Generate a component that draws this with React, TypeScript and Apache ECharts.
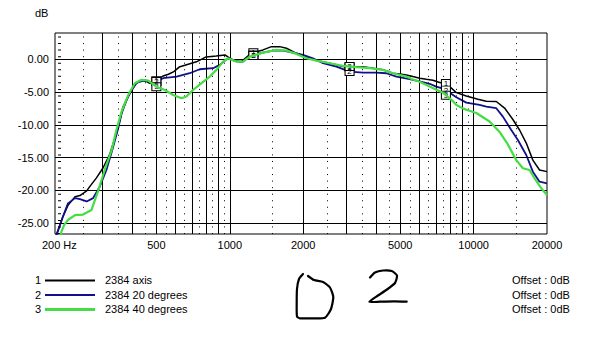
import React, { useEffect, useRef } from 'react';
import * as echarts from 'echarts';

// ---- data ----
const axisFreq = [192, 198, 207, 217, 232, 243, 259, 267, 284, 302, 322, 343, 360, 383, 408, 428, 456, 470, 500, 530, 560, 590, 620, 665, 730, 800, 880, 955, 1000, 1048, 1117, 1189, 1250, 1369, 1482, 1603, 1708, 1876, 2062, 2266, 2570, 2913, 3100, 3518, 3867, 4250, 4670, 4974, 5299, 5640, 6008, 6400, 6810, 7256, 7729, 8494, 9335, 10414, 11272, 12389, 13400, 14491, 15437, 16444, 17500, 18643, 20000];
const axisDb = [-27.3, -26.0, -24.0, -22.3, -21.0, -20.8, -20.1, -19.4, -18.1, -16.6, -14.5, -11.3, -8.3, -5.7, -3.9, -3.25, -3.4, -3.7, -3.3, -2.6, -2.3, -1.9, -1.2, -0.85, -0.4, 0.35, 0.5, 0.65, 0.15, -0.3, -0.35, 0.5, 1.0, 1.42, 1.92, 1.92, 1.67, 0.9, 0.4, -0.2, -0.6, -1.1, -1.2, -1.15, -1.37, -1.6, -2.14, -2.25, -2.4, -2.65, -2.9, -3.07, -3.2, -3.55, -3.7, -5.1, -5.6, -6.1, -6.4, -6.45, -7.45, -9.2, -10.8, -12.8, -15.4, -16.9, -17.15];

const deg20Freq = [192, 198, 207, 217, 232, 243, 259, 275, 293, 312, 333, 349, 365, 389, 415, 448, 485, 533, 605, 685, 753, 854, 910, 969, 1016, 1048, 1099, 1134, 1208, 1369, 1505, 1654, 1817, 1997, 2194, 2412, 2737, 3103, 3518, 3993, 4387, 4823, 5467, 6008, 6601, 7032, 7606, 8494, 9335, 10582, 11272, 12389, 13188, 14272, 15192, 16444, 17500, 18643, 20000];
const deg20Db = [-27.5, -26.1, -24.0, -22.0, -21.2, -21.35, -21.7, -21.2, -19.45, -16.9, -13.3, -10.5, -7.3, -5.2, -3.6, -3.2, -3.65, -2.9, -2.65, -2.14, -1.53, -1.37, -0.87, 0.0, 0.0, -0.26, -0.37, -0.37, 0.5, 1.0, 1.31, 1.31, 1.0, 0.66, 0.15, -0.61, -1.13, -1.88, -2.04, -2.04, -2.14, -2.65, -3.05, -3.4, -3.75, -4.18, -4.58, -5.8, -6.63, -6.98, -7.24, -7.48, -8.76, -10.8, -12.32, -14.61, -17.16, -18.69, -18.93];

const deg40Freq = [200, 204, 210, 217.5, 232, 250, 271, 289, 307, 328, 343, 360, 383, 408, 435, 463, 500, 542, 586, 634, 664, 707, 766, 828, 882, 939, 984, 1065, 1134, 1208, 1369, 1554, 1708, 1876, 2062, 2266, 2570, 2913, 3306, 3749, 4250, 4670, 5299, 5640, 6008, 6601, 7485, 8227, 8494, 9042, 9335, 10259, 11630, 12783, 13823, 14962, 15924, 16964, 17783, 18945, 20000];
const deg40Db = [-27.5, -26.3, -25.2, -24.5, -23.8, -23.7, -23.0, -20.0, -16.9, -13.85, -10.8, -8.0, -5.5, -3.66, -3.15, -3.27, -4.2, -4.7, -5.45, -5.95, -5.7, -4.7, -3.66, -2.65, -1.63, -0.37, 0.15, -0.37, -0.37, 0.4, 1.0, 1.42, 1.31, 0.81, 0.15, -0.21, -0.61, -1.02, -1.22, -1.37, -1.63, -2.14, -2.65, -3.1, -3.45, -4.15, -5.1, -6.4, -7.0, -7.5, -7.7, -8.2, -9.5, -11.1, -13.0, -15.4, -16.64, -16.9, -18.17, -19.69, -20.72];

const seriesNames = ['2384 axis', '2384 20 degrees', '2384 40 degrees'];
const seriesColors = ['#000000', '#10108c', '#44dd44'];
const seriesWidths = [1.5, 1.8, 2.2];
const legendWidths = [2, 2, 3];

const xLabelValues = [200, 500, 1000, 2000, 5000, 10000, 20000];
const yLabelValues = [0, -5, -10, -15, -20, -25];
const majorFreqs = [300, 400, 500, 600, 700, 800, 900, 1000, 2000, 3000, 4000, 5000, 6000, 7000, 8000, 9000, 10000];
const minorFreqs = [250, 350, 450, 550, 650, 750, 850, 950, 1500, 2500, 3500, 4500, 5500, 6500, 7500, 8500, 9500, 15000];
const markerFreqs = [500, 1250, 3100, 7700];

const FONT = '"Liberation Sans", Arial, sans-serif';

function interp(freqs: number[], dbs: number[], f: number): number {
  const lf = Math.log10(f);
  for (let i = 0; i < freqs.length - 1; i++) {
    const a = Math.log10(freqs[i]);
    const b = Math.log10(freqs[i + 1]);
    if (lf >= a && lf <= b) {
      const t = (lf - a) / (b - a);
      return dbs[i] + t * (dbs[i + 1] - dbs[i]);
    }
  }
  return dbs[dbs.length - 1];
}

export default function App() {
  const ref = useRef<HTMLDivElement>(null);
  useEffect(() => {
    if (!ref.current) return;
    const chart = echarts.init(ref.current, undefined, { renderer: 'svg' });
    const sets = [
      [axisFreq, axisDb],
      [deg20Freq, deg20Db],
      [deg40Freq, deg40Db],
    ];
    const curveSeries = sets.map(([fr, db], idx) => ({
      type: 'line',
      name: seriesNames[idx],
      data: fr.map((f, i) => [f, db[i]]),
      showSymbol: false,
      symbol: 'none',
      smooth: false,
      clip: true,
      z: 3 + idx,
      lineStyle: { color: seriesColors[idx], width: seriesWidths[idx] },
      itemStyle: { color: seriesColors[idx] },
      markPoint: {
        symbol: 'rect',
        symbolSize: [9, 8],
        silent: true,
        itemStyle: { color: '#ffffff', borderColor: '#000000', borderWidth: 1 },
        label: {
          show: true,
          position: 'inside',
          formatter: String(idx + 1),
          fontSize: 8,
          color: '#000',
          fontFamily: FONT,
        },
        data: markerFreqs.map((f) => ({ coord: [f, interp(fr, db, f)] })),
      },
    }));

    const gridLines: any[] = [
      ...majorFreqs.map((f) => ({ xAxis: f, lineStyle: { color: '#000', width: 1, type: 'solid' } })),
      ...minorFreqs.map((f) => ({ xAxis: f, lineStyle: { color: '#000', width: 1, type: [1, 5.55] } })),
      { xAxis: 200, lineStyle: { color: '#000', width: 3, type: [1, 5.55] } },
      ...yLabelValues.map((v) => ({ yAxis: v, lineStyle: { color: '#000', width: 1, type: 'solid' } })),
    ];

    const legendRows = [280.5, 295, 309.5];
    const graphic: any[] = [];
    legendRows.forEach((y, i) => {
      graphic.push({
        type: 'text', left: 35, top: y - 6,
        style: { text: String(i + 1), fontSize: 11, fontFamily: FONT, fill: '#000' },
      });
      graphic.push({
        type: 'line',
        shape: { x1: 45, y1: y, x2: 95, y2: y },
        style: { stroke: seriesColors[i], lineWidth: legendWidths[i] },
      });
      graphic.push({
        type: 'text', left: 105, top: y - 6,
        style: { text: seriesNames[i], fontSize: 11, fontFamily: FONT, fill: '#000' },
      });
      graphic.push({
        type: 'text', left: 512, top: y - 6,
        style: { text: 'Offset : 0dB', fontSize: 11, fontFamily: FONT, fill: '#000' },
      });
    });
    graphic.push({
      type: 'text', left: 35, top: 7,
      style: { text: 'dB', fontSize: 11, fontFamily: FONT, fill: '#000' },
    });
    // hand-drawn "D" and "2"
    graphic.push({
      type: 'polyline',
      shape: {
        points: [[303, 274], [299, 279], [297, 289], [296.7, 303], [297, 316.5], [300, 318.3], [312, 318.3], [325, 317.7], [331, 309], [333.3, 297], [330, 287.5], [323, 282], [314, 280], [308, 276]],
        smooth: 0.2,
      },
      style: { stroke: '#000', lineWidth: 2.2, fill: null, lineJoin: 'round', lineCap: 'round' },
    });
    graphic.push({
      type: 'polyline',
      shape: {
        points: [[370, 277.5], [375, 272.5], [383, 270.5], [391.7, 271], [397, 275.5], [395, 283], [387, 289.5], [378, 295.5], [369.3, 301.7], [380, 301.7], [394, 301.4], [406.7, 301.7]],
        smooth: 0.2,
      },
      style: { stroke: '#000', lineWidth: 2.2, fill: null, lineJoin: 'round', lineCap: 'round' },
    });

    chart.setOption({
      animation: false,
      backgroundColor: '#ffffff',
      grid: {
        left: 55, right: 55, top: 33, bottom: 129,
        show: true, borderColor: '#000', borderWidth: 1, backgroundColor: '#ffffff',
      },
      xAxis: {
        type: 'log',
        logBase: 10,
        min: 192,
        max: 20000,
        axisLine: { show: false },
        axisTick: { show: false },
        splitLine: { show: false },
        axisLabel: {
          customValues: xLabelValues,
          formatter: (v: number) => {
            const r = Math.round(v);
            return r === 200 ? '200 Hz' : String(r);
          },
          fontSize: 11,
          fontFamily: FONT,
          color: '#000',
          margin: 5,
        },
      },
      yAxis: {
        type: 'value',
        min: -26.67,
        max: 4,
        axisLine: { show: false },
        axisTick: { show: false },
        splitLine: { show: false },
        axisLabel: {
          customValues: yLabelValues,
          formatter: (v: number) => v.toFixed(2),
          fontSize: 11,
          fontFamily: FONT,
          color: '#000',
          margin: 6,
        },
      },
      series: [
        {
          type: 'line',
          data: [[1000, 0]],
          showSymbol: false,
          symbol: 'none',
          lineStyle: { opacity: 0 },
          silent: true,
          z: 1,
          markLine: {
            silent: true,
            symbol: ['none', 'none'],
            label: { show: false },
            data: gridLines,
          },
        },
        ...curveSeries,
      ],
      graphic,
    });
    return () => chart.dispose();
  }, []);
  return (
    <div
      ref={ref}
      style={{ position: 'fixed', left: 0, top: 0, width: 602, height: 363, background: '#fff' }}
    />
  );
}
